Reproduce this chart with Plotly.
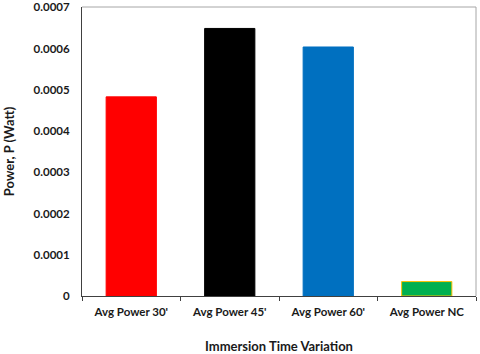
import plotly.graph_objects as go

categories = ["Avg Power 30'", "Avg Power 45'", "Avg Power 60'", "Avg Power NC"]
power = [0.000483, 0.000649, 0.000604, 0.000035]
bar_colors = ["#FF0000", "#000000", "#0070C0", "#00B050"]
edge_colors = ["#FF0000", "#000000", "#0070C0", "#FFC000"]
y_ticks = [0, 0.0001, 0.0002, 0.0003, 0.0004, 0.0005, 0.0006, 0.0007]
y_labels = ["0", "0.0001", "0.0002", "0.0003", "0.0004", "0.0005", "0.0006", "0.0007"]

TEXT = "#1a1a1a"
FONT = "Lato"
FRAME = "#A6A6A6"
AXIS = "#404040"

fig = go.Figure()
fig.add_trace(go.Bar(
    x=categories, y=power,
    marker=dict(color=bar_colors, line=dict(color=edge_colors, width=1)),
    showlegend=False,
))

# light frame on top/right of the plot area
fig.add_shape(type="line", xref="paper", yref="paper", x0=0, x1=1, y0=1, y1=1,
              line=dict(color=FRAME, width=1), layer="above")
fig.add_shape(type="line", xref="paper", yref="paper", x0=1, x1=1, y0=0, y1=1,
              line=dict(color=FRAME, width=1), layer="above")

fig.update_xaxes(
    automargin=False,
    showline=True, linecolor=AXIS, linewidth=1,
    ticks="outside", tickson="boundaries", ticklen=4, tickcolor=AXIS,
    ticklabelstandoff=5,
    tickfont=dict(family=FONT, size=11.5, color=TEXT, weight="bold"),
    title=dict(text="<b>Immersion Time Variation</b>",
               font=dict(family=FONT, size=13, color=TEXT), standoff=26),
    showgrid=False,
)
fig.update_yaxes(
    automargin=False,
    range=[0, 0.000701], tickvals=y_ticks, ticktext=y_labels,
    showline=True, linecolor=AXIS, linewidth=1,
    ticks="", ticklabelstandoff=9, ticklabeloverflow="allow",
    tickfont=dict(family=FONT, size=11.5, color=TEXT, weight="bold"),
    title=dict(text="<b>Power, P (Watt)</b>",
               font=dict(family=FONT, size=13, color=TEXT), standoff=16),
    showgrid=False, zeroline=False,
)

fig.update_layout(
    width=480, height=354,
    margin=dict(l=82, r=4, t=7, b=58, autoexpand=False),
    bargap=0.49,
    paper_bgcolor="white", plot_bgcolor="white",
    font=dict(family=FONT, color=TEXT),
)

# drop the browser's default body margin so the figure sits at the page corner
fig.write_html("out.html", config={"displayModeBar": False},
               post_script="document.body.style.margin = '0';")
